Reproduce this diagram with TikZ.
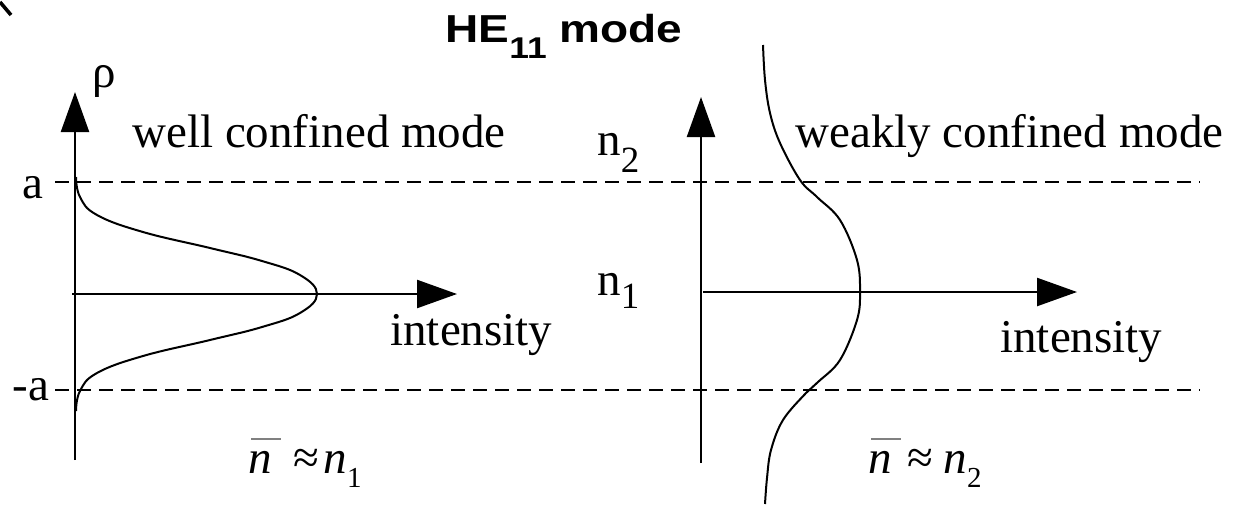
\documentclass[tikz,border=0pt]{standalone}
\usepackage{fontspec}
\setmainfont{Liberation Serif}
\newfontfamily\headfont{Liberation Sans}
\usepackage{graphicx}
\usetikzlibrary{arrows.meta}
\tikzset{axis/.style={line width=1.2pt, -{Triangle[length=20pt,width=14pt]}},
  level/.style={line width=0.9pt, dash pattern=on 7pt off 4pt},
  prof/.style={line width=1pt},
  lbl/.style={inner sep=0pt, anchor=base west}}
\newcommand{\nbar}{\rlap{\hspace{1.5pt}\raisebox{16.5pt}{\textcolor{gray}{\rule{15pt}{1pt}}}}\textit{n}}

\begin{document}
\begin{tikzpicture}[x=0.5pt, y=-0.5pt, font=\fontsize{23.5}{28}\selectfont]
  \useasboundingbox (0,0) rectangle (1251,504);
  \draw[line width=1.8pt] (0,2) -- (11,15);
  % title
  \node[lbl] (title) at (445,42) {\headfont\bfseries\fontsize{19.5}{23}\selectfont
    \scalebox{1.18}[1]{HE\raisebox{-8pt}{\fontsize{15}{17}\selectfont 11} mode}};
  % core boundaries
  \draw[level] (55,182) -- (1200,182);
  \draw[level] (55,390) -- (1200,390);
  \node[lbl] (atop) at (22,198) {a};
  \node[lbl] (abot) at (12,400) {-a};
  % well confined side
  \draw[axis] (75,460) -- (75,92);
  \draw[axis] (72,294) -- (457,294);
  \node[lbl] (rho) at (92,87) {ρ};
  \node[lbl] (wellc) at (132,147) {well confined mode};
  \node[lbl] (intl) at (390,345) {intensity};
  \draw[prof] plot[smooth, tension=0.7] coordinates {(76,177) (80,197) (97,215) (143,232)
    (210,248) (262,261) (300,275) (317,294) (300,313) (262,327) (210,340) (143,356)
    (97,373) (80,391) (76,411)};
  \node[lbl] (avgl) at (248,473) {\nbar\hspace{11pt}≈\hspace{2pt}\textit{n}\raisebox{-7pt}{\fontsize{14.5}{16}\selectfont 1}};
  % weakly confined side
  \node[lbl] (ntwo) at (597,155) {n\raisebox{-8.5pt}{\fontsize{18.5}{20}\selectfont 2}};
  \node[lbl] (none) at (597,295) {n\raisebox{-6.5pt}{\fontsize{18.5}{20}\selectfont 1}};
  \draw[axis] (701,463) -- (701,97);
  \draw[axis] (703,292) -- (1077,292);
  \node[lbl] (weakc) at (795,147) {weakly confined mode};
  \node[lbl] (intr) at (1000,352) {intensity};
  \draw[prof] plot[smooth, tension=0.6] coordinates {(763,45) (765,80) (770,113) (780,143)
    (800,180) (817,197) (840,220) (857,260) (860,292) (857,320) (840,360) (818,382)
    (806,393) (783,420) (771,450) (767,478) (765,504)};
  \node[lbl] (avgr) at (868,473) {\nbar\hspace{8pt}≈\hspace{5pt}\textit{n}\raisebox{-7pt}{\fontsize{14.5}{16}\selectfont 2}};
\end{tikzpicture}
\end{document}
